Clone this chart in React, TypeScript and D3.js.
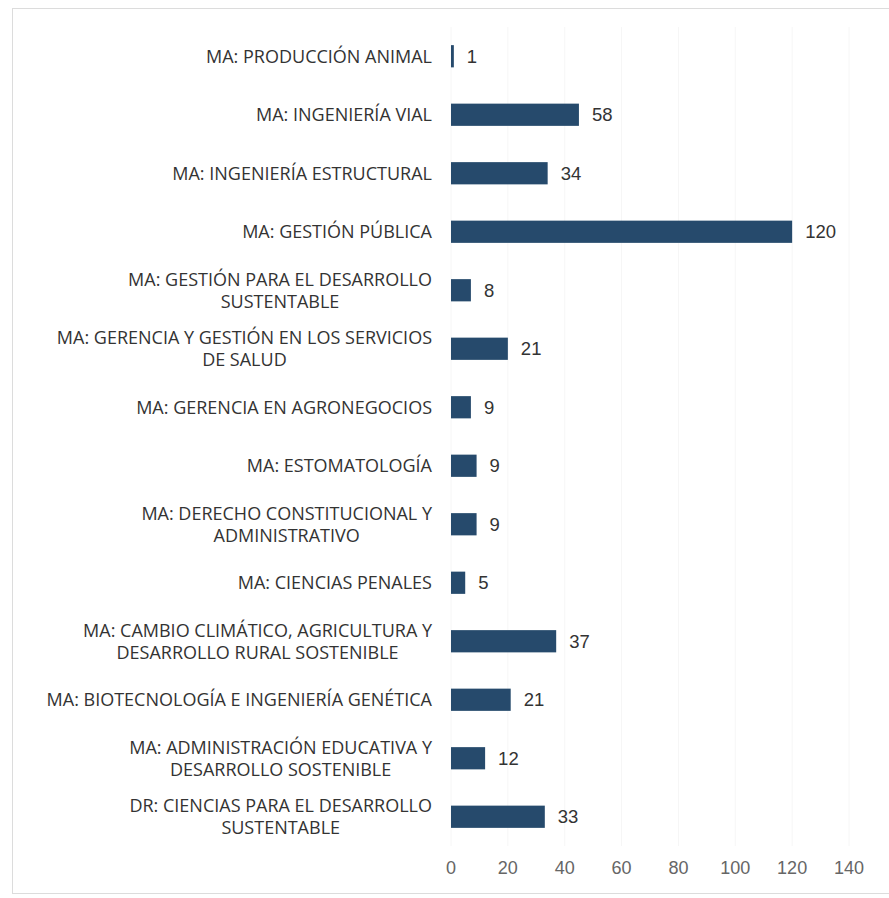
import React, { useEffect, useRef } from 'react';
import * as d3 from 'd3';

// categories, top to bottom (wrapped the way the source wraps them)
const categories: string[][] = [
  ['MA: PRODUCCIÓN ANIMAL'],
  ['MA: INGENIERÍA VIAL'],
  ['MA: INGENIERÍA ESTRUCTURAL'],
  ['MA: GESTIÓN PÚBLICA'],
  ['MA: GESTIÓN PARA EL DESARROLLO', 'SUSTENTABLE'],
  ['MA: GERENCIA Y GESTIÓN EN LOS SERVICIOS', 'DE SALUD'],
  ['MA: GERENCIA EN AGRONEGOCIOS'],
  ['MA: ESTOMATOLOGÍA'],
  ['MA: DERECHO CONSTITUCIONAL Y', 'ADMINISTRATIVO'],
  ['MA: CIENCIAS PENALES'],
  ['MA: CAMBIO CLIMÁTICO, AGRICULTURA Y', 'DESARROLLO RURAL SOSTENIBLE'],
  ['MA: BIOTECNOLOGÍA E INGENIERÍA GENÉTICA'],
  ['MA: ADMINISTRACIÓN EDUCATIVA Y', 'DESARROLLO SOSTENIBLE'],
  ['DR: CIENCIAS PARA EL DESARROLLO', 'SUSTENTABLE'],
];

// bar lengths as drawn in the source
const barValues = [1, 45, 34, 120, 7, 20, 7, 9, 9, 5, 37, 21, 12, 33];
// data labels as printed next to the bars
const dataLabels = ['1', '58', '34', '120', '8', '21', '9', '9', '9', '5', '37', '21', '12', '33'];

const xTicks = [0, 20, 40, 60, 80, 100, 120, 140];

const W = 889;
const H = 898;

const App = () => {
  const ref = useRef<SVGSVGElement>(null);

  useEffect(() => {
    const svg = d3.select(ref.current);
    svg.selectAll('*').remove();

    const x = d3.scaleLinear().domain([0, 140]).range([451, 849]);
    const y = d3.scaleBand<number>()
      .domain(d3.range(categories.length))
      .range([27, 846])
      .paddingInner(0.62)
      .paddingOuter(0.31);

    // frame
    svg.append('rect')
      .attr('x', 12.5).attr('y', 8.5)
      .attr('width', 900).attr('height', 885)
      .attr('fill', 'none')
      .attr('stroke', '#dcdcdc');

    // faint gridlines
    svg.append('g')
      .selectAll('line')
      .data(xTicks)
      .join('line')
      .attr('x1', d => x(d)).attr('x2', d => x(d))
      .attr('y1', 27).attr('y2', 846)
      .attr('stroke', '#f6f6f6');

    // bars
    svg.append('g')
      .selectAll('rect')
      .data(barValues)
      .join('rect')
      .attr('x', x(0))
      .attr('y', (_, i) => y(i)!)
      .attr('width', d => x(d) - x(0))
      .attr('height', y.bandwidth())
      .attr('fill', '#264a6c');

    // data labels
    svg.append('g')
      .selectAll('text')
      .data(barValues)
      .join('text')
      .attr('x', d => x(d) + 13)
      .attr('y', (_, i) => y(i)! + y.bandwidth() / 2)
      .attr('dy', '0.36em')
      .attr('font-family', 'Liberation Sans, Arial, sans-serif')
      .attr('font-size', 18.5)
      .attr('fill', '#333')
      .text((_, i) => dataLabels[i]);

    // category labels
    const labelX = 432;
    const lineH = 22;
    categories.forEach((lines, i) => {
      const cy = y(i)! + y.bandwidth() / 2;
      const top = cy - ((lines.length - 1) * lineH) / 2;
      const first = svg.append('text')
        .attr('x', labelX)
        .attr('y', top)
        .attr('dy', '0.36em')
        .attr('text-anchor', 'end')
        .attr('font-family', 'Open Sans, sans-serif')
        .attr('font-size', 18)
        .attr('fill', '#333')
        .text(lines[0]);
      const w = (first.node() as SVGTextElement).getComputedTextLength();
      lines.slice(1).forEach((ln, k) => {
        svg.append('text')
          .attr('x', labelX - w / 2)
          .attr('y', top + (k + 1) * lineH)
          .attr('dy', '0.36em')
          .attr('text-anchor', 'middle')
          .attr('font-family', 'Open Sans, sans-serif')
          .attr('font-size', 18)
          .attr('fill', '#333')
          .text(ln);
      });
    });

    // x axis tick labels
    svg.append('g')
      .selectAll('text')
      .data(xTicks)
      .join('text')
      .attr('x', d => x(d))
      .attr('y', 868)
      .attr('dy', '0.36em')
      .attr('text-anchor', 'middle')
      .attr('font-family', 'Liberation Sans, Arial, sans-serif')
      .attr('font-size', 18)
      .attr('fill', '#666')
      .text(d => d);
  }, []);

  return (
    <svg
      ref={ref}
      width={W}
      height={H}
      style={{ position: 'absolute', left: 0, top: 0, background: '#fff' }}
    />
  );
};

export default App;
